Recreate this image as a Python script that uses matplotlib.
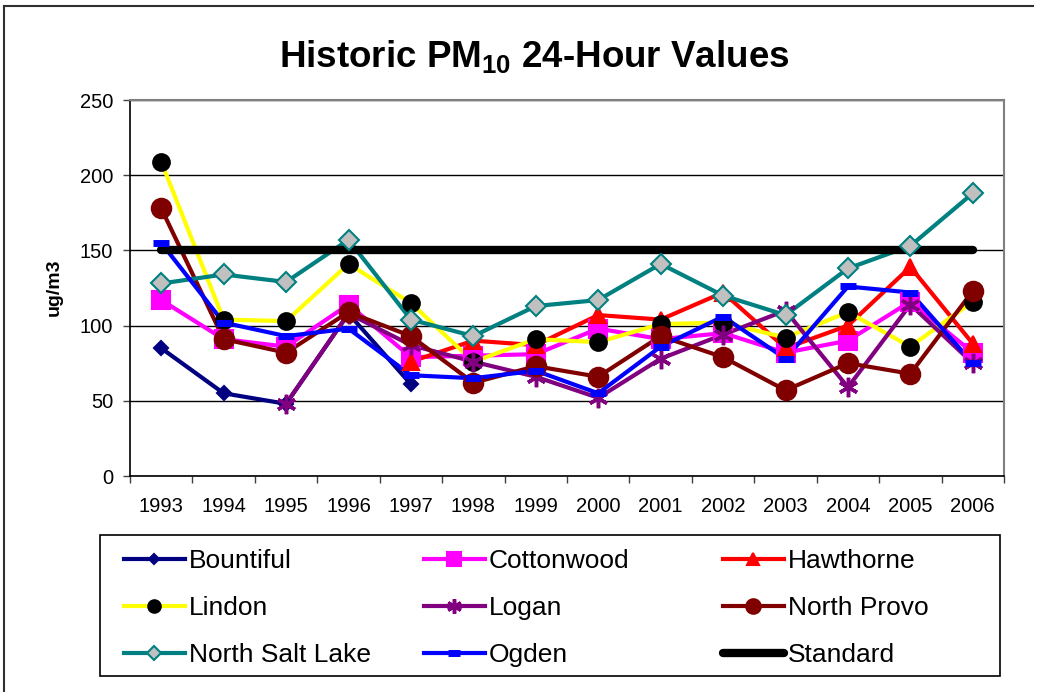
import numpy as np
import matplotlib
matplotlib.use("Agg")
import matplotlib.pyplot as plt
from matplotlib.lines import Line2D
from matplotlib.patches import Rectangle

plt.rcParams['font.family'] = ['Liberation Sans', 'DejaVu Sans']
plt.rcParams['mathtext.fontset'] = 'custom'
plt.rcParams['mathtext.rm'] = 'Liberation Sans:bold'
plt.rcParams['mathtext.bf'] = 'Liberation Sans:bold'

nan = np.nan
years = ["1993", "1994", "1995", "1996", "1997", "1998", "1999",
         "2000", "2001", "2002", "2003", "2004", "2005", "2006"]

bountiful = [85, 55, 48, 108, 61, nan, nan, nan, nan, nan, nan, nan, nan, nan]
cottonwood = [117, 91, 86, 114, 79, 80, 81, 98, 91, 95, 82, 90, 116, 82]
hawthorne = [nan, nan, nan, nan, 76, 90, 87, 107, 104, 122, 85, 100, 139, 88]
lindon = [209, 104, 103, 141, 115, 76, 91, 89, 101, 102, 92, 109, 86, 116]
logan = [nan, nan, 48, 108, 87, 76, 66, 52, 78, 94, 110, 59, 114, 75]
north_provo = [178, 91, 82, 109, 93, 62, 73, 66, 93, 79, 57, 75, 68, 123]
north_salt_lake = [128, 134, 129, 157, 104, 93, 113, 117, 141, 120, 107, 138, 153, 188]
ogden = [155, 102, 93, 98, 67, 65, 70, 55, 86, 106, 78, 126, 122, 75]
standard = [150] * 14

# name, values, line colour, marker, marker face, marker edge, marker size
series = [
    ("Bountiful", bountiful, "#000080", "D", "#000080", "#000080", 7),
    ("Cottonwood", cottonwood, "#FF00FF", "s", "#FF00FF", "#FF00FF", 12.5),
    ("Hawthorne", hawthorne, "#FF0000", "^", "#FF0000", "#FF0000", 11),
    ("Lindon", lindon, "#FFFF00", "o", "#000000", "#000000", 12),
    ("Logan", logan, "#800080", (6, 2, 0), "#800080", "#800080", 14),
    ("North Provo", north_provo, "#800000", "o", "#800000", "#800000", 14),
    ("North Salt Lake", north_salt_lake, "#008080", "D", "#C0C0C0", "#008080", 10),
    ("Ogden", ogden, "#0000FF", "_", "#0000FF", "#0000FF", 11),
]

fig = plt.figure(figsize=(10.38, 6.92), dpi=100)
ax = fig.add_axes([130 / 1038, 1 - 476 / 692, 874 / 1038, 376 / 692])

x = np.arange(len(years))
handles = []
for name, vals, lc, mk, mfc, mec, ms in series:
    ax.plot(x, vals, color=lc, lw=3, zorder=3)
    mew = 2.5 if mk == (6, 2, 0) else (5 if mk == "_" else 1.5)
    ax.plot(x, vals, ls="none", marker=mk, ms=ms, mfc=mfc, mec=mec, mew=mew, zorder=5)
    handles.append(Line2D([], [], color=lc, lw=3, marker=mk, ms=ms * 0.75,
                          mfc=mfc, mec=mec, mew=mew, label=name))
ax.plot(x, standard, color="black", lw=6, solid_capstyle="round", zorder=4)
handles.append(Line2D([], [], color="black", lw=6, solid_capstyle="round", label="Standard"))

ax.set_xlim(-0.5, 13.5)
ax.set_ylim(0, 250)
ax.set_yticks(range(0, 251, 50))
ax.yaxis.grid(True, color="black", lw=1)
ax.set_axisbelow(True)
ax.set_xticks(np.arange(-0.5, 14, 1))
ax.set_xticklabels([])
ax.set_xticks(x, minor=True)
ax.set_xticklabels(years, minor=True)
ax.tick_params(axis="x", which="major", length=5, width=1, color="#404040")
ax.tick_params(axis="x", which="minor", length=0, pad=15, labelsize=14.5)
ax.tick_params(axis="y", length=5, width=1, pad=7, labelsize=14.5, color="#404040")
for s in ["top", "right"]:
    ax.spines[s].set_color("#808080")
    ax.spines[s].set_linewidth(1.5)
for s in ["left", "bottom"]:
    ax.spines[s].set_color("black")
    ax.spines[s].set_linewidth(1.2)

fig.text(534 / 1038, 1 - 68 / 692, r"Historic PM$_{\mathbf{10}}$ 24-Hour Values",
         ha="center", va="baseline", fontsize=26.5, fontweight="bold")
fig.text(54 / 1038, 1 - 287 / 692, "ug/m3", rotation=90, ha="center", va="center",
         fontsize=14, fontweight="bold")

# legend frame and three columns
fig.add_artist(Rectangle((100 / 1038, 1 - 676 / 692), 900 / 1038, 141 / 692,
                         transform=fig.transFigure, fill=False, ec="black", lw=1.2))
col_x = [124, 424, 723]
for i in range(3):
    fig.legend(handles=handles[i::3], loc="upper left",
               bbox_to_anchor=(col_x[i] / 1038, 1 - 549 / 692),
               frameon=False, fontsize=19, handlelength=2.3, handletextpad=0.15,
               labelspacing=0.88, borderpad=0, borderaxespad=0)

# outer chart border
fig.add_artist(Line2D([4.5 / 1038, 4.5 / 1038], [0, 1 - 5.7 / 692],
                      transform=fig.transFigure, color="#303030", lw=1.5))
fig.add_artist(Line2D([4.5 / 1038, 1033 / 1038], [1 - 5.7 / 692, 1 - 5.7 / 692],
                      transform=fig.transFigure, color="#303030", lw=1.5))

fig.savefig("out.png", dpi=100)
